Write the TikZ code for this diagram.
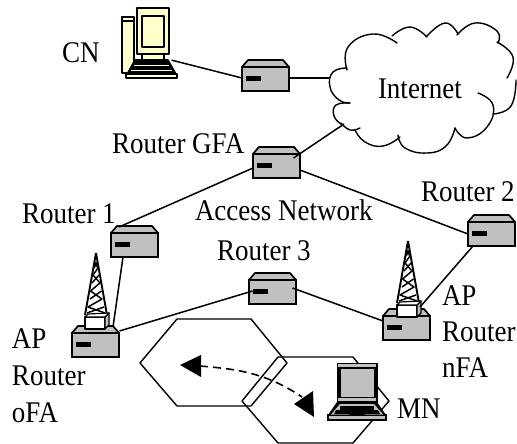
\documentclass[tikz,border=0pt]{standalone}
\usepackage{fontspec}
\setmainfont[FakeStretch=0.9]{Liberation Serif}
\tikzset{
  every picture/.style={x=1pt,y=-1pt},
  routerbox/.style={draw=black,fill=routergray,line width=1.7pt,minimum width=47pt,minimum height=24pt,inner sep=0pt,outer sep=0pt,anchor=north west},
  roof/.style={draw=black,fill=routergray,line width=1.7pt,line join=round},
  wire/.style={draw=black,line width=1.5pt},
  label/.style={anchor=base west,inner sep=0pt,outer sep=0pt,font=\fontsize{30}{32}\selectfont},
  hex/.style={draw=black,line width=1.4pt,line join=round},
  cloudline/.style={draw=black,line width=1.4pt,line cap=round},
  cyel/.style={draw=black,fill=compyellow,line width=1.5pt,line join=round},
}
\definecolor{routergray}{HTML}{C0C0C0}
\definecolor{compyellow}{HTML}{FFFFCC}
\newcommand{\routerat}[3]{%
  \path[roof] (#2,#3) -- ++(6,-7) -- ++(35,0) -- ++(6,7) -- cycle;
  \node[routerbox] (#1) at (#2,#3) {};
  \fill[black] (#2+4,#3+9) rectangle ++(15,5);
}
\newcommand{\towerat}[2]{%
  \begin{scope}[shift={(#1,#2)},line width=1.9pt,line join=round]
    \draw (0,0) -- (-11,62) (0,0) -- (11,62);
    \draw[line width=1.5pt] (-1.5,9) -- (2,15) -- (-3,22) -- (4,30) -- (-5.5,38) -- (6,46) -- (-8,54) -- (9,60);
    \draw[line width=1.5pt] (1.5,9) -- (-2,15) (3,22) -- (-4,30) (5.5,38) -- (-6,46) (8,54) -- (-9,60);
    \draw[fill=white,line width=1.5pt] (-11,64) rectangle (9,76);
    \draw[fill=routergray,line width=1.2pt] (9,64) -- (13,60) -- (13,72) -- (9,76) -- cycle;
    \draw[fill=white,line width=1.2pt] (-11,64) -- (-8,61) -- (13,60) -- (9,64) -- cycle;
  \end{scope}
}
\begin{document}
\begin{tikzpicture}
\useasboundingbox (0,0) rectangle (517,444);
% cells
\draw[hex] (140,363) -- (177,319) -- (251,319) -- (287,363) -- (251,406) -- (177,406) -- cycle;
\draw[hex] (242,401) -- (278,357) -- (353,357) -- (389,401) -- (353,443) -- (278,443) -- cycle;
% mobile path
\coordinate (pathA) at (200,366);
\coordinate (pathB) at (302,397);
\draw[black,line width=1.6pt,dash pattern=on 8pt off 5pt] (pathA) .. controls (235,369) and (265,372) .. (pathB);
\fill[black] (180,365) -- (201,355) -- (201,377) -- cycle;
\fill[black] (294,404) -- (313,391) -- (314,417) -- cycle;
% laptop MN
\fill[black] (337,402) -- (377,402) -- (386,415) -- (328,415) -- cycle;
\draw[fill=routergray,line width=1.3pt] (328,415) -- (386,415) -- (386,420) -- (328,420) -- cycle;
\draw[fill=black,line width=1pt] (337,363) rectangle (377,402);
\fill[routergray] (338,364) rectangle (376,367);
\fill[routergray] (338,398) rectangle (376,401);
\fill[routergray] (341,369) rectangle (374,397);
\fill[routergray] (331,414.5) -- (340,404) -- (374,404) -- (383,414.5) -- (365,414.5) -- (363,411) -- (351,411) -- (349,414.5) -- cycle;
\fill[black] (340,406) rectangle (374,411);
\fill[black] (336,410) -- (378,410) -- (380,414) -- (334,414) -- cycle;
% routers
\routerat{rtop}{242}{67}
\routerat{rgfa}{253}{154}
\routerat{rone}{111}{233}
\routerat{rtwo}{468}{222}
\routerat{rthree}{249}{280}
\routerat{rold}{72}{333}
\routerat{rnew}{383}{316}
% towers
\towerat{96}{253}
\towerat{408}{241}
% CN computer
\draw[cyel] (122,17) rectangle (134,73);
\fill[black] (122,20) rectangle (134,22);
\draw[cyel] (142,54) rectangle (164,61);
\draw[cyel] (137,8) rectangle (169,54);
\draw[cyel,line width=1.8pt] (142,16) rectangle (164,47);
\draw[cyel,fill=black] (135,60) -- (168,60) -- (177,76) -- (126,76) -- cycle;
\draw[compyellow,line width=.8pt] (134,65) -- (169,65) (131,70) -- (172,70);
\draw[cyel] (126,74) -- (177,74) -- (177,78) -- (126,78) -- cycle;
\node[inner sep=0pt,outer sep=0pt,minimum width=1pt,minimum height=1pt] (cn) at (171,60) {};
% connectors
\draw[wire] (cn) -- (rtop.west |- 0,78);
\coordinate (cloudwest) at (330,78);
\coordinate (cloudsw) at (344,124);
\draw[wire] (rtop.east) ++(0,-1) -- (cloudwest);
\draw[wire] ([shift={(17,-8)}]rgfa.center) -- (cloudsw);
\draw[wire] ([shift={(-23.5,2)}]rgfa.center) -- ([shift={(-15.5,-18)}]rone.center);
\draw[wire] ([shift={(23.5,4)}]rgfa.center) -- (rtwo.west);
\draw[wire] ([shift={(-11.5,12)}]rone.center) -- ([shift={(17.5,-18)}]rold.center);
\draw[wire] ([shift={(24,-14)}]rold.center) -- ([shift={(-20,-1)}]rthree.center);
\draw[wire] ([shift={(20,-4)}]rthree.center) -- ([shift={(-23.5,-7)}]rnew.center);
\draw[wire] ([shift={(-18.5,12)}]rtwo.center) -- ([shift={(13.5,-21)}]rnew.center);
% cloud
\draw[cloudline] plot[smooth,tension=.8] coordinates {(347,70) (348,47) (373,34) (397,43)};
\draw[cloudline] plot[smooth,tension=.8] coordinates {(392,36) (410,27) (427,37)};
\draw[cloudline] plot[smooth,tension=.8] coordinates {(426,37) (445,23) (458,34)};
\draw[cloudline] plot[smooth,tension=.8] coordinates {(457,35) (475,23) (497,31) (498,43)};
\draw[cloudline] plot[smooth,tension=.8] coordinates {(497,42) (513,57) (507,78)};
\draw[cloudline] plot[smooth,tension=.8] coordinates {(493,114) (511,106) (516,80)};
\draw[cloudline] plot[smooth,tension=.8] coordinates {(478,93) (493,105) (487,127) (467,138) (455,128)};
\draw[cloudline] plot[smooth,tension=.8] coordinates {(455,128) (446,146) (427,153) (405,148) (398,135)};
\draw[cloudline] plot[smooth,tension=.8] coordinates {(400,137) (383,146) (365,142) (355,130)};
\draw[cloudline] plot[smooth,tension=.8] coordinates {(360,128) (350,130) (341,123)};
\draw[cloudline] plot[smooth,tension=.8] coordinates {(350,103) (336,105) (334,116) (341,124)};
\draw[cloudline] plot[smooth,tension=.8] coordinates {(347,68) (333,72) (330,87) (339,100) (350,103)};
% labels
\node[label] (lcn) at (62,63) {CN};
\node[label] (linternet) at (378,99) {Internet};
\node[label] (lgfa) at (112,153) {Router GFA};
\node[label] (lone) at (22,223) {Router 1};
\node[label] (laccess) at (195,220) {Access Network};
\node[label] (lthree) at (217,260) {Router 3};
\node[label] (ltwo) at (421,201) {Router 2};
\node[label] (lap1) at (12,348) {AP};
\node[label] (lr1) at (12,385) {Router};
\node[label] (lo) at (12,422) {oFA};
\node[label] (lap2) at (442,305) {AP};
\node[label] (lr2) at (442,341) {Router};
\node[label] (ln) at (442,377) {nFA};
\node[label] (lmn) at (397,418) {MN};
\end{tikzpicture}
\end{document}
